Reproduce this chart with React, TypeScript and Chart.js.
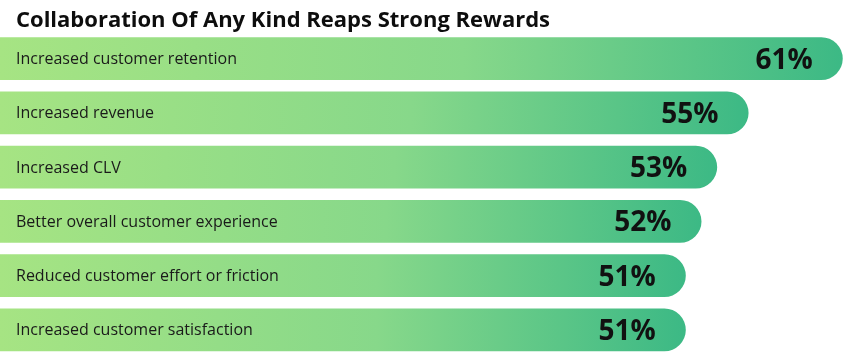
import React, { useEffect, useRef } from "react";
import { Chart, registerables } from "chart.js";

Chart.register(...registerables);

const titleText = "Collaboration Of Any Kind Reaps Strong Rewards";
const categories = [
  "Increased customer retention",
  "Increased revenue",
  "Increased CLV",
  "Better overall customer experience",
  "Reduced customer effort or friction",
  "Increased customer satisfaction",
];
const values = [61, 55, 53, 52, 51, 51];

const FONT = "'Open Sans', Roboto, sans-serif";

const labelPlugin = {
  id: "barLabels",
  afterDraw(chart: any) {
    const ctx = chart.ctx;
    const meta = chart.getDatasetMeta(0);
    ctx.save();
    ctx.textBaseline = "alphabetic";
    ctx.textAlign = "left";
    ctx.fillStyle = "#0d0d0d";
    ctx.font = `700 22px ${FONT}`;
    ctx.fillText(titleText, 16, 27);
    meta.data.forEach((bar: any, i: number) => {
      ctx.textBaseline = "middle";
      ctx.fillStyle = "#1a1a1a";
      ctx.font = `400 16px ${FONT}`;
      ctx.textAlign = "left";
      ctx.fillText(categories[i], chart.chartArea.left + 16, bar.y + 1);
      ctx.font = `700 28px ${FONT}`;
      ctx.textAlign = "right";
      ctx.fillStyle = "#111";
      ctx.fillText(values[i] + "%", bar.x - 30, bar.y + 2);
    });
    ctx.restore();
  },
};

export default function App() {
  const ref = useRef<HTMLCanvasElement>(null);
  useEffect(() => {
    const canvas = ref.current!;
    const chart = new Chart(canvas, {
      type: "bar",
      data: {
        labels: categories,
        datasets: [
          {
            data: values,
            backgroundColor: (c: any) => {
              const ch = c.chart;
              const area = ch.chartArea;
              if (!area) return "#7fd38b";
              const end = ch.scales.x.getPixelForValue(values[c.dataIndex]);
              const g = ch.ctx.createLinearGradient(area.left, 0, end, 0);
              g.addColorStop(0, "#a6e483");
              g.addColorStop(0.55, "#87d88a");
              g.addColorStop(1, "#3cb985");
              return g;
            },
            borderWidth: 0,
            borderSkipped: "start",
            borderRadius: { topLeft: 0, bottomLeft: 0, topRight: 22, bottomRight: 22 },
            barPercentage: 0.79,
            categoryPercentage: 1,
          },
        ],
      },
      options: {
        indexAxis: "y",
        responsive: false,
        animation: false,
        layout: { padding: { left: 0, right: 0, top: 31.5, bottom: 4 } },
        scales: {
          x: { display: false, min: 7.3, max: 62.1 },
          y: { display: false },
        },
        plugins: {
          legend: { display: false },
          tooltip: { enabled: false },
          title: { display: false },
        },
      },
      plugins: [labelPlugin],
    });
    return () => chart.destroy();
  }, []);
  return (
    <div style={{ position: "fixed", left: 0, top: 0, width: 860, height: 361, background: "#fff" }}>
      <canvas ref={ref} width={860} height={361} style={{ display: "block" }} />
    </div>
  );
}
